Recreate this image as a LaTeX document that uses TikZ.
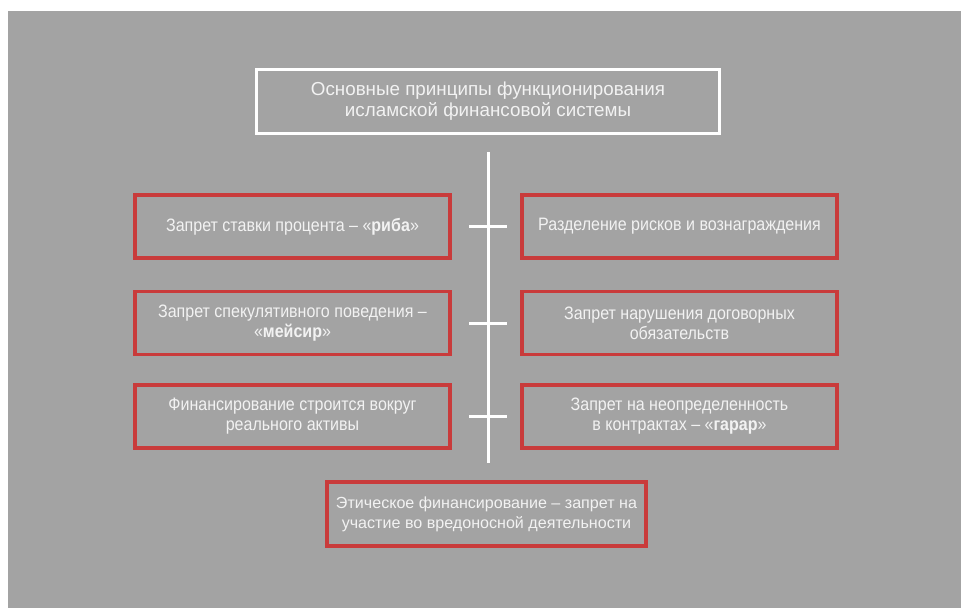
\documentclass[tikz,border=0pt]{standalone}
\usepackage{fontspec}
\setmainfont{Liberation Sans}
\newfontfamily\narrowfont[FakeStretch=0.89]{Liberation Sans}
\usetikzlibrary{positioning}

\definecolor{bggray}{HTML}{A3A3A3}
\definecolor{boxred}{HTML}{C93B3B}
\definecolor{txtwhite}{HTML}{F2F2F2}

\tikzset{
  title/.style={draw=white, line width=3pt, minimum width=463pt, minimum height=64pt,
    align=center, text=txtwhite, font=\fontsize{18.8}{21}\selectfont},
  principle/.style={draw=boxred, line width=3.5pt, minimum width=315pt, minimum height=63pt,
    align=center, text=txtwhite, font=\narrowfont\fontsize{18}{20}\selectfont},
  ethics/.style={principle, minimum width=319pt, minimum height=64pt,
    font=\fontsize{16.1}{20}\selectfont},
  spine/.style={white, line width=3pt},
}

\begin{document}
\begin{tikzpicture}[x=1pt,y=-1pt]
      \fill[white] (0,0) rectangle (961,608);
      \fill[bggray] (8,11) rectangle (961,608);
      \useasboundingbox (0,0) rectangle (961,608);

      \node[title] (top) at (488,101.5) {Основные принципы функционирования\\исламской финансовой системы};

      \node[principle] (l1) at (292.5,226.5) {Запрет ставки процента – «\textbf{риба}»};
      \node[principle, below=30pt of l1] (l2) {Запрет спекулятивного поведения –\\«\textbf{мейсир}»};
      \node[principle, below=27pt of l2] (l3) {Финансирование строится вокруг\\реального активы};
      \node[principle, right=68.5pt of l1] (r1) {Разделение рисков и вознаграждения};
      \node[principle, right=68.5pt of l2] (r2) {Запрет нарушения договорных\\обязательств};
      \node[principle, right=68.5pt of l3] (r3) {Запрет на неопределенность\\в контрактах – «\textbf{гарар}»};

      \node[ethics] (eth) at (486.5,514) {Этическое финансирование – запрет на\\участие во вредоносной деятельности};

      \coordinate (spineTop) at (488,152);
      \coordinate (spineBot) at (488,463);
      \draw[spine] (spineTop) -- (spineBot);
      \foreach \r in {1,2,3}
        \draw[spine] ([xshift=-19pt]l\r -| spineTop) -- ([xshift=19pt]l\r -| spineTop);
\end{tikzpicture}
\end{document}
